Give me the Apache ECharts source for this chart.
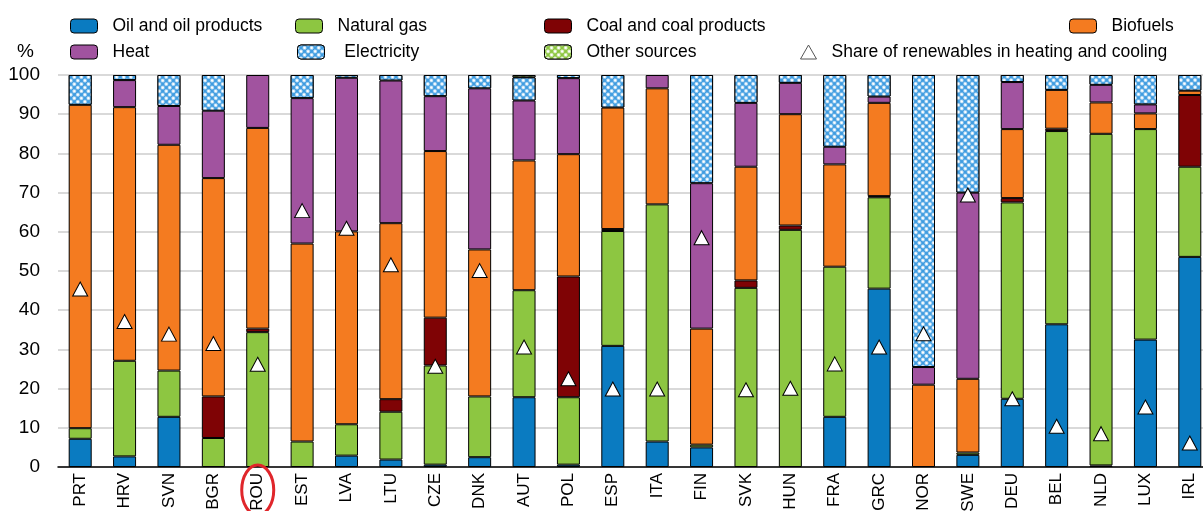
<!DOCTYPE html>
<html>
<head>
<meta charset="utf-8">
<script src="https://cdn.jsdelivr.net/npm/echarts@6/dist/echarts.min.js"></script>
<style>html,body{margin:0;padding:0;background:#fff}#c{width:1203px;height:511px}</style>
</head>
<body>
<div id="c"></div>
<script>
const countries = ['PRT','HRV','SVN','BGR','ROU','EST','LVA','LTU','CZE','DNK','AUT','POL','ESP','ITA','FIN','SVK','HUN','FRA','GRC','NOR','SWE','DEU','BEL','NLD','LUX','IRL'];
const oil      = [7.2, 2.7,12.8, 0,   0,   0,   2.9, 1.9, 0.6, 2.5,17.8, 0.6,30.9, 6.5, 5.0, 0,   0,  12.8,45.5, 0,   3.1,17.4,36.4, 0.4,32.5,53.6];
const gas      = [2.7,24.4,11.8, 7.4,34.4, 6.5, 8.0,12.2,25.3,15.5,27.3,17.2,29.3,60.5, 0.7,45.7,60.5,38.3,23.3, 0,   0.6,50.1,49.3,84.6,53.7,23.0];
const coal     = [0,   0,   0,  10.6, 0.9, 0,   0,   3.2,12.2, 0,   0,  30.8, 0.5, 0,   0,   1.9, 1.1, 0,   0.3, 0,   0,   1.1, 0.6, 0,   0,  18.3];
const biofuels = [82.5,64.7,57.6,55.7,51.2,50.5,49.2,44.9,42.5,37.5,33.1,31.2,31.0,29.6,29.6,29.0,28.4,26.1,23.8,21.0,18.8,17.6, 9.9, 8.0, 4.0, 1.1];
const heat     = [0,   6.9, 9.9,17.2,13.5,37.1,39.2,36.4,14.0,41.1,15.3,19.4, 0,   3.4,37.1,16.3, 8.0, 4.5, 1.6, 4.5,47.5,12.0, 0,   4.5, 2.3, 0];
const electricity = [7.6,1.3,7.9,9.1,0,  5.9, 0.7, 1.4, 5.4, 3.4, 5.9, 0.8, 8.3, 0,  27.6, 7.1, 2.0,18.3, 5.5,74.5,30.0, 1.8, 3.8, 2.5, 7.5, 4.0];
const otherSources = [0,0,  0,   0,   0,   0,   0,   0,   0,   0,   0.6, 0,   0,   0,   0,   0,   0,   0,   0,   0,   0,   0,   0,   0,   0,   0];
const renewShare = [45.4,37.1,33.9,31.5,26.2,65.4,60.9,51.6,25.7,50.1,30.6,22.5,19.9,19.9,58.5,19.7,20.1,26.3,30.6,34.0,69.4,17.4,10.4,8.5,15.3,6.1];
const yTicks = [0,10,20,30,40,50,60,70,80,90,100];

const FONT = '"Liberation Sans",Arial,sans-serif';
const nz = a => a.map(v => v === 0 ? '-' : v);

const elecDecal = {symbol:'circle', symbolSize:0.9, color:'#ffffff', backgroundColor:'#3d9be0', dashArrayX:[4,1], dashArrayY:[4,1], rotation:0.785};
const otherDecal = {symbol:'circle', symbolSize:0.9, color:'#ffffff', backgroundColor:'#8cc63f', dashArrayX:[4,1], dashArrayY:[4,1], rotation:0.785};

const border = {borderColor:'#000', borderWidth:1};
function barSeries(name, data, color, decal){
  const s = {name, type:'bar', stack:'t', barWidth:23, data:nz(data),
    itemStyle:Object.assign({color}, border), emphasis:{disabled:true}};
  if (decal) s.itemStyle.decal = decal;
  return s;
}

const legendText = {fontFamily:FONT, fontSize:17.5, color:'#000', padding:[0,0,0,10]};
function leg(name, left, top, extra){
  return Object.assign({data:[name], left, top, itemWidth:27, itemHeight:14, selectedMode:false,
    textStyle:Object.assign({}, legendText), padding:0, itemStyle:{borderColor:'#000', borderWidth:1}}, extra||{});
}

const chart = echarts.init(document.getElementById('c'), null, {renderer:'canvas'});
const option = {
  animation:false,
  aria:{enabled:false},
  grid:{left:58, right:-9, top:75, bottom:44, containLabel:false, outerBoundsMode:'none'},
  title:{text:'%', left:12, top:37, textStyle:{fontFamily:FONT, fontSize:19, fontWeight:'normal', color:'#000'}},
  legend:[
    leg('Oil and oil products', 70, 17),
    leg('Natural gas', 295, 17),
    leg('Coal and coal products', 544, 17),
    leg('Biofuels', 1069, 17),
    leg('Heat', 70, 43),
    leg('Electricity', 297, 43, {formatter:' {name}'}),
    leg('Other sources', 544, 43),
    leg('Share of renewables in heating and cooling', 800, 43, {itemWidth:16, itemHeight:14, itemStyle:{color:'#fff', borderColor:'#555', borderWidth:1, opacity:1}})
  ],
  xAxis:{type:'category', data:countries,
    axisLine:{lineStyle:{color:'#000', width:1.5}},
    axisTick:{inside:true, length:5, lineStyle:{color:'#000', width:1.5}, alignWithLabel:false},
    axisLabel:{rotate:90, fontFamily:FONT, fontSize:17, color:'#000', margin:6, interval:0}},
  yAxis:{type:'value', min:0, max:100, interval:10,
    axisLine:{show:false}, axisTick:{show:false},
    splitLine:{lineStyle:{color:'#d9d9d9', width:2}},
    axisLabel:{fontFamily:FONT, fontSize:19, color:'#000', margin:18,
      formatter:v => yTicks.includes(v) ? String(v) : ''}},
  series:[
    barSeries('Oil and oil products', oil, '#0a7bc1'),
    barSeries('Natural gas', gas, '#8dc641'),
    barSeries('Coal and coal products', coal, '#7f0305'),
    barSeries('Biofuels', biofuels, '#f47b20'),
    barSeries('Heat', heat, '#a1539f'),
    barSeries('Electricity', electricity, '#3d9be0', elecDecal),
    barSeries('Other sources', otherSources, '#8cc63f', otherDecal),
    {name:'Share of renewables in heating and cooling', type:'scatter', data:renewShare,
      symbol:'triangle', symbolSize:[15,14], z:10,
      itemStyle:{color:'#fff', borderColor:'#000', borderWidth:1, opacity:1}, emphasis:{disabled:true}}
  ]
};
chart.setOption(option);
const rx = chart.convertToPixel({xAxisIndex:0}, 'ROU');
chart.setOption({graphic:[{type:'ellipse', shape:{cx:rx, cy:490, rx:16, ry:25},
  style:{fill:'none', stroke:'#e0262b', lineWidth:3}, z:100}]});
</script>
</body>
</html>
